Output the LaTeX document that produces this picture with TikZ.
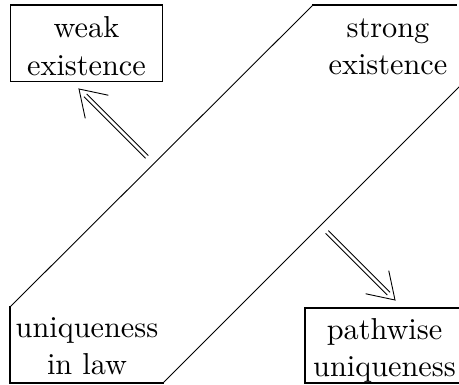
\documentclass[tikz,border=0pt]{standalone}
\usepackage{graphicx}
\usetikzlibrary{calc}
\newcommand\bigtext[1]{\scalebox{3.03}{\fontsize{10}{12.4}\selectfont\begin{tabular}{@{}c@{}}#1\end{tabular}}}
\tikzset{
  lbl/.style={align=center, inner sep=0pt},
  boxed/.style={draw, line width=1.6pt, inner sep=0pt},
  straightline/.style={line width=1.6pt, line cap=rect},
  diagline/.style={line width=0.9pt},
  arr/.style={line width=0.9pt},
}
\newcommand\dblarrow[2]{%
  \draw[arr] ($(#1)!2pt!90:(#2)$) -- ($(#2)!9pt!(#1)!2pt!-90:(#1)$);
  \draw[arr] ($(#1)!2pt!-90:(#2)$) -- ($(#2)!9pt!(#1)!2pt!90:(#1)$);
  \draw[arr] ($(#2)!30pt!33:(#1)$) -- (#2) -- ($(#2)!30pt!-33:(#1)$);
}
\begin{document}
\begin{tikzpicture}[x=1pt,y=-1pt]
\useasboundingbox (0,0) rectangle (459,385);
\begin{scope}
\clip (0,0) rectangle (459,385);
% the band
\coordinate (c1) at (313,5);
\coordinate (c2) at (10,307);
\coordinate (c3) at (10,383);
\coordinate (c4) at (163,383);
\draw[straightline] (456,5) -- (c1);
\draw[diagline] (c1) -- (c2);
\draw[straightline] (c2) -- (c3) -- (c4);
\draw[diagline] (c4) -- (462,84);
\node[boxed, minimum width=152pt, minimum height=76.5pt] (wk) at (86.3,43.3) {};
\node[boxed, minimum width=158pt, minimum height=75pt] (pw) at (384,345.5) {};
\end{scope}
\node[lbl] (wkt) at (86.5,48.8) {\bigtext{weak\\existence}};
\node[lbl] (pwt) at (384.5,350.5) {\bigtext{pathwise\\uniqueness}};
\node[lbl] (se) at (388,48.3) {\bigtext{strong\\existence}};
\node[lbl] (ul) at (87,348.3) {\bigtext{uniqueness\\in law}};
\coordinate (t1) at (147,157);
\coordinate (h1) at (79,89);
\coordinate (t2) at (327,232);
\coordinate (h2) at (395,300);
\dblarrow{t1}{h1}
\dblarrow{t2}{h2}
\end{tikzpicture}
\end{document}
